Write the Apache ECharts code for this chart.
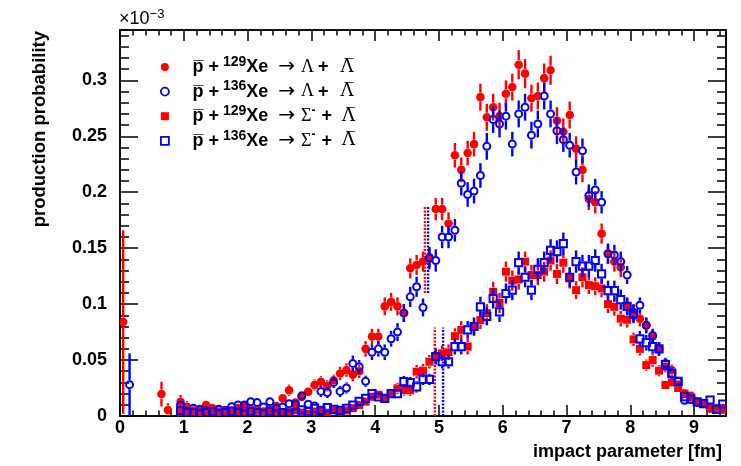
<!DOCTYPE html>
<html>
<head>
<meta charset="utf-8">
<script src="https://cdn.jsdelivr.net/npm/echarts@6/dist/echarts.min.js"></script>
<style>
  html, body { margin: 0; padding: 0; background: #fff; }
  #chart { width: 741px; height: 466px; }
</style>
</head>
<body>
<div id="chart"></div>
<script>
// Impact-parameter bins (centres, fm), 0.1 fm wide
const binCentres = [
  0.05,0.15,0.25,0.35,0.45,0.55,0.65,0.75,0.85,0.95,
  1.05,1.15,1.25,1.35,1.45,1.55,1.65,1.75,1.85,1.95,
  2.05,2.15,2.25,2.35,2.45,2.55,2.65,2.75,2.85,2.95,
  3.05,3.15,3.25,3.35,3.45,3.55,3.65,3.75,3.85,3.95,
  4.05,4.15,4.25,4.35,4.45,4.55,4.65,4.75,4.85,4.95,
  5.05,5.15,5.25,5.35,5.45,5.55,5.65,5.75,5.85,5.95,
  6.05,6.15,6.25,6.35,6.45,6.55,6.65,6.75,6.85,6.95,
  7.05,7.15,7.25,7.35,7.45,7.55,7.65,7.75,7.85,7.95,
  8.05,8.15,8.25,8.35,8.45,8.55,8.65,8.75,8.85,8.95,
  9.05,9.15,9.25,9.35,9.45
];

// Production probability (units of 1e-3) and statistical errors
// pbar + 129Xe -> Lambda + Lambdabar
const lambda129 = [
  0.084,null,null,null,null,null,0.0196,0.0054,null,0.0128,
  0.0083,0.004,0.005,0.0098,0.007,0.004,0.005,0.005,0.007,0.009,
  0.006,0.005,0.004,0.006,0.009,0.0158,0.023,0.012,0.017,0.0217,
  0.0277,0.0306,0.027,0.032,0.038,0.041,0.037,0.040,0.060,0.071,
  0.071,0.098,0.102,0.098,0.092,0.132,0.135,0.138,0.142,0.185,
  0.185,0.172,0.233,0.220,0.235,0.243,0.285,0.267,0.276,0.268,
  0.288,0.294,0.314,0.306,0.284,0.286,0.302,0.309,0.264,0.254,
  0.269,0.239,0.220,0.194,0.191,0.163,0.145,0.138,0.133,0.098,
  0.093,0.087,0.081,0.071,0.060,0.044,0.041,0.028,0.020,0.018,
  0.013,0.011,0.007,0.007,0.007
];
const lambda129Err = [
  0.082,null,null,null,null,null,0.011,0.006,null,0.006,
  0.005,0.003,0.003,0.004,0.003,0.003,0.003,0.003,0.003,0.003,
  0.003,0.003,0.002,0.003,0.003,0.004,0.005,0.003,0.004,0.004,
  0.005,0.005,0.005,0.005,0.006,0.006,0.006,0.006,0.007,0.007,
  0.007,0.008,0.008,0.008,0.008,0.009,0.009,0.009,0.009,0.010,
  0.010,0.010,0.011,0.011,0.011,0.011,0.012,0.012,0.012,0.012,
  0.012,0.012,0.013,0.013,0.012,0.012,0.013,0.013,0.012,0.012,
  0.012,0.011,0.011,0.010,0.010,0.009,0.009,0.009,0.009,0.007,
  0.007,0.007,0.007,0.006,0.006,0.005,0.005,0.004,0.003,0.003,
  0.003,0.002,0.002,0.002,0.002
];
// pbar + 136Xe -> Lambda + Lambdabar
const lambda136 = [
  null,0.028,null,null,null,null,null,null,null,0.0098,
  0.004,0.007,0.006,0.005,0.004,0.006,0.005,0.0083,0.0098,0.0098,
  0.0128,0.012,0.008,0.0128,0.007,0.008,0.011,0.0105,0.018,0.0105,
  0.009,0.022,0.021,0.030,0.022,0.025,0.047,0.044,0.031,0.057,
  0.060,0.057,0.069,0.075,0.092,0.1065,0.1155,0.097,0.141,0.139,
  0.160,0.160,0.166,0.208,0.198,0.201,0.215,0.241,0.265,0.261,
  0.268,0.243,0.270,0.276,0.251,0.261,0.286,0.270,0.255,0.247,
  0.242,0.218,0.237,0.197,0.202,0.191,0.145,0.144,0.138,0.126,
  0.090,0.099,0.081,0.072,0.060,0.047,0.038,0.031,0.014,0.015,
  0.012,0.011,0.007,0.006,0.006
];
const lambda136Err = [
  null,0.028,null,null,null,null,null,null,null,0.004,
  0.003,0.003,0.003,0.003,0.003,0.003,0.003,0.003,0.003,0.003,
  0.004,0.004,0.003,0.004,0.003,0.003,0.004,0.004,0.004,0.004,
  0.003,0.005,0.005,0.005,0.005,0.005,0.007,0.006,0.005,0.007,
  0.007,0.007,0.007,0.008,0.008,0.009,0.009,0.008,0.010,0.010,
  0.010,0.010,0.010,0.011,0.011,0.011,0.011,0.012,0.012,0.012,
  0.012,0.011,0.012,0.012,0.012,0.012,0.012,0.012,0.012,0.011,
  0.011,0.011,0.011,0.010,0.010,0.010,0.009,0.009,0.009,0.008,
  0.007,0.007,0.007,0.006,0.006,0.005,0.005,0.004,0.003,0.003,
  0.003,0.002,0.002,0.002,0.002
];
// pbar + 129Xe -> Sigma- + Lambdabar
const sigma129 = [
  null,null,null,null,null,null,null,null,null,0.004,
  0.003,0.005,0.002,0.004,0.003,0.002,0.004,0.003,0.002,0.004,
  0.005,0.005,0.003,0.002,0.004,0.003,0.004,0.005,0.003,0.002,
  0.004,0.005,0.003,0.005,0.004,0.005,0.007,0.0098,0.0128,0.0172,
  0.019,0.0155,0.020,0.0247,0.0232,0.023,0.0396,0.0405,0.0485,0.0536,
  0.056,0.057,0.0714,0.0768,0.062,0.0797,0.0857,0.092,0.111,0.101,
  0.129,0.121,0.122,0.138,0.126,0.126,0.129,0.139,0.127,0.137,
  0.123,0.1125,0.124,0.117,0.116,0.114,0.100,0.0976,0.087,0.086,
  0.0685,0.060,0.0455,0.050,0.0405,0.0277,0.030,0.025,0.020,0.017,
  0.0128,0.011,0.007,0.006,0.006
];
const sigma129Err = [
  null,null,null,null,null,null,null,null,null,0.002,
  0.002,0.002,0.002,0.002,0.002,0.002,0.002,0.002,0.002,0.002,
  0.002,0.002,0.002,0.002,0.002,0.002,0.002,0.002,0.002,0.002,
  0.002,0.002,0.002,0.002,0.002,0.002,0.003,0.003,0.003,0.004,
  0.004,0.004,0.004,0.005,0.005,0.005,0.006,0.006,0.006,0.007,
  0.007,0.007,0.007,0.008,0.007,0.008,0.008,0.008,0.009,0.009,
  0.009,0.009,0.009,0.009,0.009,0.009,0.009,0.009,0.009,0.009,
  0.009,0.008,0.009,0.008,0.008,0.008,0.008,0.008,0.007,0.007,
  0.006,0.006,0.005,0.006,0.005,0.004,0.004,0.004,0.004,0.003,
  0.003,0.003,0.002,0.002,0.002
];
// pbar + 136Xe -> Sigma- + Lambdabar
const sigma136 = [
  null,null,null,null,null,null,null,null,null,0.005,
  0.003,0.003,0.002,0.003,0.004,0.002,0.003,0.004,0.003,0.002,
  0.004,0.003,0.002,0.004,0.002,0.003,0.002,0.003,0.0054,0.004,
  0.0068,0.005,0.0074,0.006,0.005,0.0068,0.0098,0.013,0.0158,0.020,
  0.017,0.0158,0.020,0.020,0.0307,0.0298,0.026,0.0327,0.0327,0.053,
  0.0485,0.0485,0.062,0.062,0.077,0.080,0.0976,0.089,0.105,0.093,
  0.1095,0.1125,0.137,0.124,0.1125,0.131,0.137,0.148,0.147,0.154,
  0.124,0.138,0.134,0.134,0.139,0.127,0.112,0.112,0.104,0.098,
  0.0917,0.069,0.0655,0.062,0.060,0.046,0.038,0.031,0.0173,0.015,
  0.0125,0.011,0.0143,0.006,0.0107
];
const sigma136Err = [
  null,null,null,null,null,null,null,null,null,0.002,
  0.002,0.002,0.002,0.002,0.002,0.002,0.002,0.002,0.002,0.002,
  0.002,0.002,0.002,0.002,0.002,0.002,0.002,0.002,0.002,0.002,
  0.002,0.002,0.002,0.002,0.002,0.002,0.003,0.003,0.004,0.004,
  0.004,0.004,0.004,0.004,0.005,0.005,0.005,0.005,0.005,0.007,
  0.006,0.006,0.007,0.007,0.008,0.008,0.009,0.008,0.009,0.009,
  0.009,0.009,0.010,0.009,0.009,0.010,0.010,0.010,0.010,0.010,
  0.009,0.010,0.010,0.010,0.010,0.009,0.009,0.009,0.009,0.008,
  0.008,0.007,0.007,0.006,0.006,0.005,0.005,0.004,0.003,0.003,
  0.003,0.003,0.003,0.002,0.002
];

// Vertical dotted markers: position (fm) and vertical extent
const markerB    = [4.78, 4.83, 4.935, 5.065];
const markerLow  = [0.11, 0.11, 0, 0];
const markerHigh = [0.188, 0.188, 0.079, 0.079];

// Axis ranges and tick spacing
const xRange = [0, 9.5], xMajor = 1, xMinor = 0.2;
const yRange = [0, 0.345], yMajor = 0.05, yMinor = 0.01;

// Legend texts
const seriesNames = [
  'p̄ + 129Xe → Λ + Λ̄',
  'p̄ + 136Xe → Λ + Λ̄',
  'p̄ + 129Xe → Σ- + Λ̄',
  'p̄ + 136Xe → Σ- + Λ̄'
];
const legendRich = [
  '{sp| }{pb|p\u0305}{pl|+}{s|129}{xe|Xe}{ar|\u2192}{gr|Λ}{pl2|+}{ab|Λ\u0305}',
  '{sp| }{pb|p\u0305}{pl|+}{s|136}{xe|Xe}{ar|\u2192}{gr|Λ}{pl2|+}{ab|Λ\u0305}',
  '{sp| }{pb|p\u0305}{pl|+}{s|129}{xe|Xe}{ar|\u2192}{gr|Σ}{sm|-}{pl3|+}{ab|Λ\u0305}',
  '{sp| }{pb|p\u0305}{pl|+}{s|136}{xe|Xe}{ar|\u2192}{gr|Σ}{sm|-}{pl3|+}{ab|Λ\u0305}'
];

// ---------------------------------------------------------------
const RED = '#ff0000';
const BLUE = '#0000ff';
const markerColors = [RED, BLUE, RED, BLUE];
const SANS = 'Liberation Sans';
const SERIF = 'Liberation Serif';

function points(vals, errs) {
  return binCentres
    .map((b, i) => (vals[i] == null ? null : [b, vals[i], errs[i]]))
    .filter(Boolean);
}

// Marker with a vertical error bar; the bar is interrupted by the marker
function errorSeries(name, data, color, shape, filled) {
  return {
    type: 'custom',
    name: name,
    data: data,
    clip: true,
    xAxisIndex: 0,
    yAxisIndex: 0,
    itemStyle: { color: color },
    encode: { x: 0, y: 1 },
    renderItem: function (params, api) {
      const b = api.value(0), v = api.value(1), e = api.value(2);
      const c = api.coord([b, v]);
      const hi = api.coord([b, v + e]);
      const lo = api.coord([b, v - e]);
      const gap = 4.5;
      const lw = 2.4;
      const children = [];
      if (hi[1] < c[1] - gap) {
        children.push({ type: 'line', shape: { x1: c[0], y1: hi[1], x2: c[0], y2: c[1] - gap },
          style: { stroke: color, lineWidth: lw } });
      }
      if (lo[1] > c[1] + gap) {
        children.push({ type: 'line', shape: { x1: c[0], y1: c[1] + gap, x2: c[0], y2: lo[1] },
          style: { stroke: color, lineWidth: lw } });
      }
      if (shape === 'circle') {
        children.push(filled
          ? { type: 'circle', shape: { cx: c[0], cy: c[1], r: 4.3 }, style: { fill: color } }
          : { type: 'circle', shape: { cx: c[0], cy: c[1], r: 3.5 }, style: { fill: 'none', stroke: color, lineWidth: 2 } });
      } else {
        children.push(filled
          ? { type: 'rect', shape: { x: c[0] - 4, y: c[1] - 4, width: 8, height: 8 }, style: { fill: color } }
          : { type: 'rect', shape: { x: c[0] - 3.6, y: c[1] - 3.6, width: 7.2, height: 7.2 }, style: { fill: 'none', stroke: color, lineWidth: 2 } });
      }
      return { type: 'group', children: children };
    }
  };
}

const markerData = markerB.map((b, i) => [b, markerLow[i], markerHigh[i], i]);
const markerSeries = {
  type: 'custom',
  name: 'markers',
  data: markerData,
  clip: true,
  xAxisIndex: 0,
  yAxisIndex: 0,
  encode: { x: 0, y: [1, 2] },
  renderItem: function (params, api) {
    const b = api.value(0);
    const p0 = api.coord([b, api.value(1)]);
    const p1 = api.coord([b, api.value(2)]);
    return {
      type: 'line',
      shape: { x1: p0[0], y1: p0[1], x2: p1[0], y2: p1[1] },
      style: { stroke: markerColors[api.value(3)], lineWidth: 2.4, lineDash: [2, 1.5] }
    };
  }
};

const black = '#000';
function xAxisDef(position, major) {
  return {
    type: 'value', position: position, min: xRange[0], max: xRange[1],
    interval: major ? xMajor : xMinor,
    axisLine: { show: true, onZero: false, lineStyle: { color: black, width: 1.5 } },
    axisTick: { show: true, inside: true, length: major ? 11 : 5.5, lineStyle: { color: black, width: 1.5 } },
    axisLabel: {
      show: major && position === 'bottom', showMaxLabel: false, margin: 3,
      color: black, fontFamily: SANS, fontWeight: 'bold', fontSize: 18
    },
    splitLine: { show: false }
  };
}
function yAxisDef(position, major) {
  return {
    type: 'value', position: position, min: yRange[0], max: yRange[1],
    interval: major ? yMajor : yMinor,
    axisLine: { show: true, onZero: false, lineStyle: { color: black, width: 1.5 } },
    axisTick: { show: true, inside: true, length: major ? 18 : 9, lineStyle: { color: black, width: 1.5 } },
    axisLabel: {
      show: major && position === 'left', showMaxLabel: false, margin: 13,
      color: black, fontFamily: SANS, fontWeight: 'bold', fontSize: 18
    },
    splitLine: { show: false }
  };
}

const chart = echarts.init(document.getElementById('chart'), null, { renderer: 'canvas' });
const legendFormat = {};
seriesNames.forEach((n, i) => { legendFormat[n] = legendRich[i]; });

const bold18 = { fontFamily: SANS, fontWeight: 'bold', fontSize: 18, lineHeight: 24 };

chart.setOption({
  animation: false,
  backgroundColor: '#fff',
  grid: { left: 120, right: 15, top: 30, bottom: 50, containLabel: false },
  xAxis: [xAxisDef('bottom', true), xAxisDef('bottom', false), xAxisDef('top', true), xAxisDef('top', false)],
  yAxis: [yAxisDef('left', true), yAxisDef('left', false), yAxisDef('right', true), yAxisDef('right', false)],
  legend: {
    orient: 'vertical',
    left: 160,
    top: 55,
    padding: 0,
    itemGap: 2.6,
    itemWidth: 8,
    itemHeight: 8,
    selectedMode: false,
    data: [
      { name: seriesNames[0], icon: 'circle', itemStyle: { color: RED, borderWidth: 0 } },
      { name: seriesNames[1], icon: 'circle', itemStyle: { color: 'rgba(0,0,0,0)', borderColor: BLUE, borderWidth: 1.8 } },
      { name: seriesNames[2], icon: 'rect', itemStyle: { color: RED, borderWidth: 0 } },
      { name: seriesNames[3], icon: 'rect', itemStyle: { color: 'rgba(0,0,0,0)', borderColor: BLUE, borderWidth: 1.8 } }
    ],
    formatter: function (name) { return legendFormat[name]; },
    textStyle: {
      color: black,
      rich: {
        sp: { width: 18.5, fontSize: 18, lineHeight: 24 },
        pb: Object.assign({}, bold18),
        pl: Object.assign({ padding: [0, 4, 0, 5] }, bold18),
        s: { fontFamily: SANS, fontWeight: 'bold', fontSize: 14, verticalAlign: 'top', lineHeight: 13 },
        xe: Object.assign({}, bold18),
        ar: { fontFamily: 'DejaVu Sans', fontSize: 20, lineHeight: 24, padding: [0, 6, 0, 10] },
        gr: { fontFamily: SERIF, fontSize: 18, lineHeight: 24 },
        sm: { fontFamily: SANS, fontWeight: 'bold', fontSize: 12, verticalAlign: 'top', lineHeight: 12 },
        pl2: Object.assign({ padding: [0, 12, 0, 4] }, bold18),
        pl3: Object.assign({ padding: [0, 10, 0, 6] }, bold18),
        ab: { fontFamily: 'DejaVu Serif', fontSize: 18, lineHeight: 24 }
      }
    }
  },
  graphic: [
    {
      type: 'text', x: 119, y: 8,
      style: {
        text: '{a|×10}{e|−3}',
        rich: {
          a: { fontFamily: SANS, fontSize: 18, lineHeight: 22, fill: black },
          e: { fontFamily: SANS, fontSize: 13, lineHeight: 13, verticalAlign: 'top', fill: black }
        }
      }
    },
    {
      type: 'text', x: 40, y: 31, rotation: Math.PI / 2,
      style: {
        text: 'production probability', fill: black,
        font: 'bold 18.5px "Liberation Sans"', align: 'right', verticalAlign: 'middle'
      }
    },
    {
      type: 'text', x: 722, y: 452,
      style: {
        text: 'impact parameter [fm]', fill: black,
        font: 'bold 18px "Liberation Sans"', align: 'right', verticalAlign: 'middle'
      }
    }
  ],
  series: [
    markerSeries,
    errorSeries(seriesNames[0], points(lambda129, lambda129Err), RED, 'circle', true),
    errorSeries(seriesNames[1], points(lambda136, lambda136Err), BLUE, 'circle', false),
    errorSeries(seriesNames[2], points(sigma129, sigma129Err), RED, 'square', true),
    errorSeries(seriesNames[3], points(sigma136, sigma136Err), BLUE, 'square', false)
  ]
});
</script>
</body>
</html>
